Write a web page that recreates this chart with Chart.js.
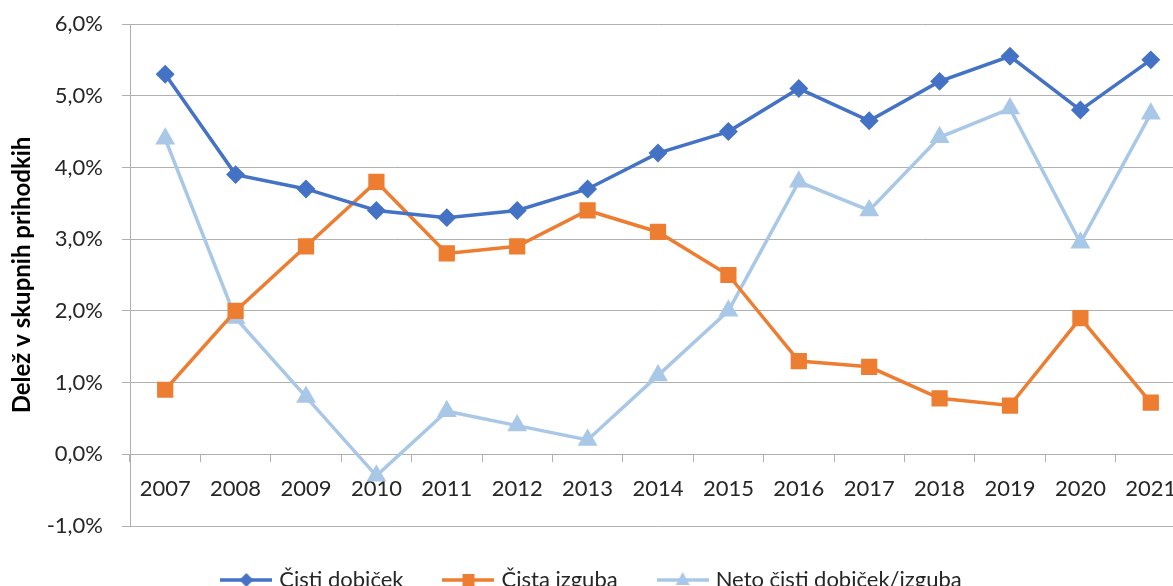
<!DOCTYPE html>
<html>
<head>
<meta charset="utf-8">
<script src="https://cdn.jsdelivr.net/npm/chart.js@4"></script>
<style>
  body { margin: 0; background: #fff; }
  #wrap { width: 1173px; height: 586px; overflow: hidden; position: relative; }
  #box { width: 1200px; height: 601px; position: absolute; left: 0; top: 0; }
</style>
</head>
<body>
<div id="wrap"><div id="box"><canvas id="myChart"></canvas></div></div>
<script>
var years = ['2007', '2008', '2009', '2010', '2011', '2012', '2013', '2014', '2015', '2016', '2017', '2018', '2019', '2020', '2021'];
var cistiDobicek = [5.3, 3.9, 3.7, 3.4, 3.3, 3.4, 3.7, 4.2, 4.5, 5.1, 4.65, 5.2, 5.55, 4.8, 5.5];
var cistaIzguba = [0.9, 2.0, 2.9, 3.8, 2.8, 2.9, 3.4, 3.1, 2.5, 1.3, 1.22, 0.78, 0.68, 1.9, 0.72];
var netoDobicek = [4.4, 1.9, 0.8, -0.3, 0.6, 0.4, 0.2, 1.1, 2.0, 3.8, 3.4, 4.42, 4.82, 2.95, 4.75];
var yTicks = [-1, 0, 1, 2, 3, 4, 5, 6];

var BLUE = '#4472c4', ORANGE = '#ed7d31', LIGHT = '#a9c8e8';
var GRID = '#b0b0b0', TEXT = '#262626';
var FONT = 'Lato, "Open Sans", sans-serif';

// legend swatch: a short line with the series marker in the middle
function swatch(color, shape) {
    var c = document.createElement('canvas');
    c.width = 52; c.height = 18;
    var g = c.getContext('2d');
    g.strokeStyle = color; g.fillStyle = color; g.lineWidth = 3.5;
    g.beginPath(); g.moveTo(0, 9); g.lineTo(52, 9); g.stroke();
    g.beginPath();
    if (shape === 'diamond') {
        g.moveTo(26, 2); g.lineTo(33, 9); g.lineTo(26, 16); g.lineTo(19, 9);
    } else if (shape === 'square') {
        g.rect(20, 3, 12, 12);
    } else {
        g.moveTo(26, 1); g.lineTo(33, 14); g.lineTo(19, 14);
    }
    g.closePath(); g.fill();
    return c;
}

var ctx = document.getElementById('myChart').getContext('2d');

var chart = new Chart(ctx, {
    type: 'line',
    data: {
        labels: years,
        datasets: [{
            label: 'Čisti dobiček',
            data: cistiDobicek,
            borderColor: BLUE,
            backgroundColor: BLUE,
            borderWidth: 3.5,
            pointStyle: 'rectRot',
            pointRadius: 7,
            legendImg: swatch(BLUE, 'diamond')
        }, {
            label: 'Čista izguba',
            data: cistaIzguba,
            borderColor: ORANGE,
            backgroundColor: ORANGE,
            borderWidth: 3.5,
            pointStyle: 'rect',
            pointRadius: 9,
            legendImg: swatch(ORANGE, 'square')
        }, {
            label: 'Neto čisti dobiček/izguba',
            data: netoDobicek,
            borderColor: LIGHT,
            backgroundColor: LIGHT,
            borderWidth: 3.5,
            pointStyle: 'triangle',
            pointRadius: 8,
            legendImg: swatch(LIGHT, 'triangle')
        }]
    },
    options: {
        responsive: true,
        maintainAspectRatio: false,
        animation: false,
        layout: { padding: { top: 24, right: 14, left: 0, bottom: 0 } },
        plugins: {
            tooltip: { enabled: false },
            legend: {
                position: 'bottom',
                labels: {
                    usePointStyle: true,
                    pointStyleWidth: 44,
                    padding: 43,
                    color: TEXT,
                    font: { family: FONT, size: 22 },
                    generateLabels: function (ch) {
                        return ch.data.datasets.map(function (ds, i) {
                            return {
                                text: ds.label,
                                pointStyle: ds.legendImg,
                                fillStyle: ds.borderColor,
                                strokeStyle: ds.borderColor,
                                lineWidth: 0,
                                fontColor: TEXT,
                                datasetIndex: i
                            };
                        });
                    }
                }
            }
        },
        scales: {
            x: {
                position: { y: 0 },
                offset: true,
                afterFit: function (s) { s.paddingTop = 0; s.paddingBottom = 0; },
                grid: { display: true, drawOnChartArea: false, drawTicks: true, tickLength: 7, color: GRID, offset: true },
                border: { display: true, color: GRID, width: 1 },
                ticks: { color: TEXT, font: { family: FONT, size: 22 }, padding: 14, maxRotation: 0, autoSkip: false }
            },
            y: {
                min: -1,
                max: 6,
                afterBuildTicks: function (s) {
                    s.ticks = yTicks.map(function (v) { return { value: v }; });
                },
                afterFit: function (s) { s.width = 130; s.paddingTop = 0; s.paddingBottom = 0; },
                grid: { color: GRID, tickLength: 8 },
                border: { display: true, color: GRID },
                ticks: {
                    color: TEXT,
                    font: { family: FONT, size: 22 },
                    padding: 19,
                    callback: function (v) { return v.toFixed(1).replace('.', ',') + '%'; }
                },
                title: {
                    display: true,
                    text: 'Delež v skupnih prihodkih',
                    color: '#000',
                    font: { family: FONT, size: 24, weight: 'bold' },
                    padding: { top: 8, bottom: 0 }
                }
            }
        }
    }
});
</script>
</body>
</html>
